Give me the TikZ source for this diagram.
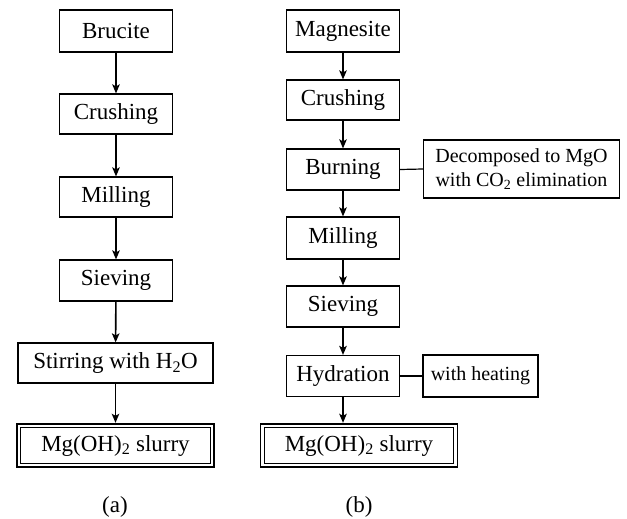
\documentclass[tikz,border=0pt]{standalone}
\usepackage{fontspec}
\setmainfont{Liberation Serif}
\usetikzlibrary{arrows.meta}
\begin{document}
\begin{tikzpicture}[x=1pt,y=-1pt,
  stepbox/.style={draw, line width=1.2pt, inner sep=0pt, minimum width=113pt, minimum height=41pt, font=\fontsize{23}{26}\selectfont},
  notebox/.style={draw, line width=1.2pt, inner sep=0pt, align=center, font=\fontsize{20}{24.5}\selectfont},
  endbox/.style={draw, line width=1.9pt, inner sep=0pt, minimum width=197pt, minimum height=43.5pt, font=\fontsize{23}{26}\selectfont},
  flow/.style={line width=1.6pt, -{Stealth[length=9pt,width=7.5pt,inset=2pt]}},
  link/.style={line width=1.2pt},
  captext/.style={font=\fontsize{23}{26}\selectfont}]
\useasboundingbox (0,0) rectangle (627,519);
% left column
\node[stepbox, minimum height=42pt] (a1) at (116,31) {Brucite};
\node[stepbox, minimum height=40pt] (a2) at (116,114) {Crushing};
\node[stepbox, minimum height=40pt] (a3) at (116,197) {Milling};
\node[stepbox] (a4) at (116,280.5) {Sieving};
\node[stepbox, minimum width=195pt, minimum height=40pt] (a5) at (115.5,363) {Stirring with H\textsubscript{2}O};
\node[endbox] (a6) at (115.5,445.5) {Mg(OH)\textsubscript{2} slurry};
\draw[line width=1pt] ([shift={(4.5pt,-4.5pt)}]a6.north west) rectangle ([shift={(-4.5pt,4.5pt)}]a6.south east);
\draw[flow] (a1) -- (a2);
\draw[flow] (a2) -- (a3);
\draw[flow] (a3) -- (a4);
\draw[flow] (a4) -- (a5);
\draw[flow] (a5.south) -- (a5.south |- a6.north);
\node[captext] (la) at (115,507) {(a)};
% right column
\node[stepbox, minimum height=42pt] (b1) at (343,31) {Magnesite};
\node[stepbox, minimum height=40pt] (b2) at (343,100) {Crushing};
\node[stepbox] (b3) at (343,169.5) {Burning};
\node[stepbox, minimum height=42pt] (b4) at (343,238) {Milling};
\node[stepbox] (b5) at (343,306.5) {Sieving};
\node[stepbox] (b6) at (343,376) {Hydration};
\node[endbox] (b7) at (359,445.5) {Mg(OH)\textsubscript{2} slurry};
\draw[line width=1pt] ([shift={(4.5pt,-4.5pt)}]b7.north west) rectangle ([shift={(-4.5pt,4.5pt)}]b7.south east);
\draw[flow] (b1) -- (b2);
\draw[flow] (b2) -- (b3);
\draw[flow] (b3) -- (b4);
\draw[flow] (b4) -- (b5);
\draw[flow] (b5) -- (b6);
\draw[flow] (b6.south) -- (b6.south |- b7.north);
\node[captext] (lb) at (359,507) {(b)};
% side notes
\node[notebox, minimum width=196pt, minimum height=58pt] (n1) at (521.5,169) {Decomposed to MgO\\with CO\textsubscript{2} elimination};
\node[notebox, minimum width=115pt, minimum height=42pt] (n2) at (480.5,376) {with heating};
\draw[link] (b3.east) -- (n1.west);
\draw[link] (b6.east) -- (n2.west);
\end{tikzpicture}
\end{document}
